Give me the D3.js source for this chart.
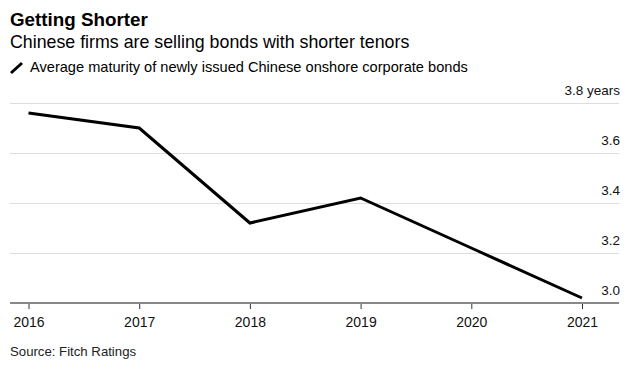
<!DOCTYPE html>
<html>
<head>
<meta charset="utf-8">
<script src="https://cdn.jsdelivr.net/npm/d3@7"></script>
<style>
  body { margin: 0; background: #fff; }
  svg { font-family: "Liberation Sans", Arial, Helvetica, sans-serif; display: block; }
</style>
</head>
<body>
<script>
// data
var years = [2016, 2017, 2018, 2019, 2020, 2021];
var maturity = [3.76, 3.70, 3.32, 3.42, 3.22, 3.02];
var yTicks = [3.0, 3.2, 3.4, 3.6, 3.8];

var width = 634,
    height = 374;

var svg = d3.select("body").append("svg")
    .attr("width", width)
    .attr("height", height);

// header
svg.append("text")
    .attr("x", 10).attr("y", 26)
    .attr("font-size", 18.8).attr("font-weight", "bold")
    .attr("fill", "#000")
    .text("Getting Shorter");

svg.append("text")
    .attr("x", 10).attr("y", 47.5)
    .attr("font-size", 17.8)
    .attr("fill", "#000")
    .text("Chinese firms are selling bonds with shorter tenors");

svg.append("line")
    .attr("x1", 11).attr("y1", 73)
    .attr("x2", 22).attr("y2", 63)
    .attr("stroke", "#000").attr("stroke-width", 3);

svg.append("text")
    .attr("x", 30).attr("y", 71.5)
    .attr("font-size", 14.6)
    .attr("fill", "#000")
    .text("Average maturity of newly issued Chinese onshore corporate bonds");

var x = d3.scaleLinear().domain([2016, 2021]).range([28.5, 582]);
var y = d3.scaleLinear().domain([3.0, 3.8]).range([303, 103]);

var left = 10, right = 619;

// grid
svg.append("g").selectAll("line")
    .data(yTicks.filter(function(d) { return d > 3.0; }))
    .enter().append("line")
    .attr("x1", left).attr("x2", right)
    .attr("y1", function(d) { return Math.round(y(d)) + 0.5; })
    .attr("y2", function(d) { return Math.round(y(d)) + 0.5; })
    .attr("stroke", "#ddd").attr("stroke-width", 1);

// y labels on the right, above the lines
svg.append("g").selectAll("text")
    .data(yTicks)
    .enter().append("text")
    .attr("x", 620)
    .attr("y", function(d) { return y(d) - 8.5; })
    .attr("text-anchor", "end")
    .attr("font-size", 13.5)
    .attr("fill", "#111")
    .text(function(d) { return d === 3.8 ? "3.8 years" : d.toFixed(1); });

// x axis
var xAxis = svg.append("g")
    .attr("transform", "translate(0," + y(3.0) + ")")
    .call(d3.axisBottom(x)
        .tickValues(years)
        .tickFormat(d3.format("d"))
        .tickSize(6)
        .tickPadding(8));
xAxis.select(".domain").remove();
xAxis.selectAll(".tick line").attr("stroke", "#333");
xAxis.selectAll(".tick text")
    .attr("font-size", 14)
    .attr("font-family", "Liberation Sans, Arial, sans-serif")
    .attr("fill", "#111");

svg.append("line")
    .attr("x1", left).attr("x2", right)
    .attr("y1", y(3.0)).attr("y2", y(3.0))
    .attr("stroke", "#888").attr("stroke-width", 2);

// series
var line = d3.line()
    .x(function(d, i) { return x(years[i]); })
    .y(function(d) { return y(d); });

svg.append("path")
    .datum(maturity)
    .attr("d", line)
    .attr("fill", "none")
    .attr("stroke", "#000")
    .attr("stroke-width", 3)
    .attr("stroke-linejoin", "miter");

svg.append("text")
    .attr("x", 10).attr("y", 355.5)
    .attr("font-size", 13.2)
    .attr("fill", "#222")
    .text("Source: Fitch Ratings");
</script>
</body>
</html>
